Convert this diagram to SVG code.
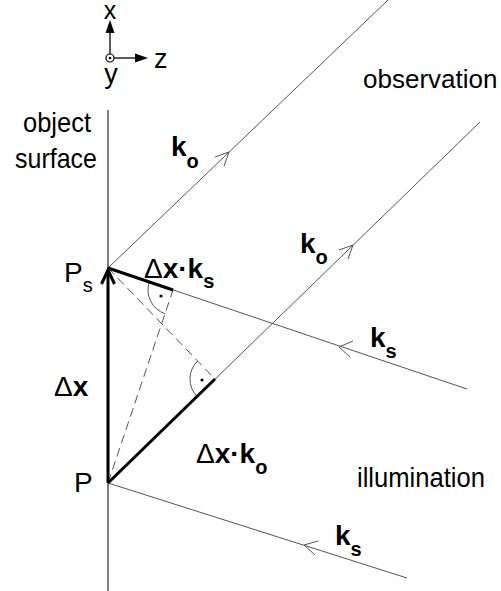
<svg xmlns="http://www.w3.org/2000/svg" width="501" height="591" viewBox="0 0 501 591">
<style>
text{font-family:"Liberation Sans",Arial,sans-serif;fill:#000}
.lbl{font-size:27px}
.big{font-size:28px}
.b{font-weight:bold}
.sub{font-size:20px;font-weight:bold}
.ray{stroke:#555;stroke-width:1;fill:none}
.head{stroke:#555;stroke-width:1;fill:none}
.dash{stroke:#555;stroke-width:1;stroke-dasharray:9 5;fill:none}
.thick{stroke:#000;stroke-width:3;fill:none}
.arc{stroke:#555;stroke-width:1;fill:none}
</style>
<rect width="501" height="591" fill="#fff"/>
<g id="axes">
<line x1="110" y1="54" x2="110" y2="32" stroke="#000" stroke-width="1.3"/>
<polygon points="110,20 105.5,33 114.5,33" fill="#000"/>
<line x1="114" y1="58" x2="137" y2="58" stroke="#000" stroke-width="1.3"/>
<polygon points="148,58 135,53.5 135,62.5" fill="#000"/>
<circle cx="110" cy="58" r="4" fill="#fff" stroke="#000" stroke-width="1.2"/>
<circle cx="110" cy="58" r="1.3" fill="#000"/>
<text x="110" y="19" text-anchor="middle" font-size="25">x</text>
<text class="lbl" x="154" y="68">z</text>
<text class="lbl" x="111" y="83" text-anchor="middle">y</text>
</g>
<g id="surface">
<line x1="108" y1="110" x2="108" y2="591" stroke="#000" stroke-width="1"/>
<text class="big" x="23" y="132" textLength="68" lengthAdjust="spacingAndGlyphs">object</text>
<text class="big" x="15" y="168" textLength="82" lengthAdjust="spacingAndGlyphs">surface</text>
</g>
<g id="labels">
<text x="363" y="88" font-size="26">observation</text>
<text class="big" x="357" y="487" textLength="128" lengthAdjust="spacingAndGlyphs">illumination</text>
</g>
<g id="connectors">
<line class="ray" x1="108" y1="268" x2="388" y2="0"/>
<line class="ray" x1="108" y1="483" x2="480" y2="122"/>
<line class="ray" x1="108" y1="268" x2="467" y2="389"/>
<line class="ray" x1="108" y1="483" x2="407" y2="578"/>
<polyline class="head" points="215,157 229,152 224,166"/>
<polyline class="head" points="339,250 353,245 348,259"/>
<polyline class="head" points="353,341 339,347 350,357"/>
<polyline class="head" points="318,541 304,545 315,555"/>
<line class="dash" x1="108" y1="483" x2="173" y2="290"/>
<line class="dash" x1="108" y1="268" x2="215" y2="379"/>
<path class="arc" d="M149.3,282 A25,25 0 0 0 165,313.7"/>
<circle cx="161" cy="296" r="1.6" fill="#000"/>
<path class="arc" d="M197,396.4 A25,25 0 0 1 197.6,361"/>
<circle cx="202" cy="380" r="1.6" fill="#000"/>
<line class="thick" x1="108" y1="268" x2="173" y2="290"/>
<line class="thick" x1="108" y1="483" x2="215" y2="379"/>
<line class="thick" x1="108" y1="483" x2="108" y2="271"/>
<polyline class="thick" points="101.5,284 108,270 114.5,284"/>
</g>
<g id="node-Ps">
<text class="big" x="64" y="282">P<tspan font-size="20" dy="10">s</tspan></text>
</g>
<g id="node-P">
<text class="big" x="74" y="492">P</text>
</g>
<g id="label-dx">
<text class="big" x="54" y="396">Δ<tspan class="b">x</tspan></text>
</g>
<g id="label-dxks">
<text class="big" x="144" y="278">Δ<tspan class="b">x·k</tspan><tspan class="sub" dy="10">s</tspan></text>
</g>
<g id="label-dxko">
<text class="big" x="196" y="463">Δ<tspan class="b">x·k</tspan><tspan class="sub" dy="11">o</tspan></text>
</g>
<g id="label-ko1"><text class="big b" x="171" y="156">k<tspan class="sub" dy="12">o</tspan></text></g>
<g id="label-ko2"><text class="big b" x="300" y="253">k<tspan class="sub" dy="11">o</tspan></text></g>
<g id="label-ks1"><text class="big b" x="370" y="347">k<tspan class="sub" dy="11">s</tspan></text></g>
<g id="label-ks2"><text class="big b" x="335" y="545">k<tspan class="sub" dy="11">s</tspan></text></g>
</svg>
